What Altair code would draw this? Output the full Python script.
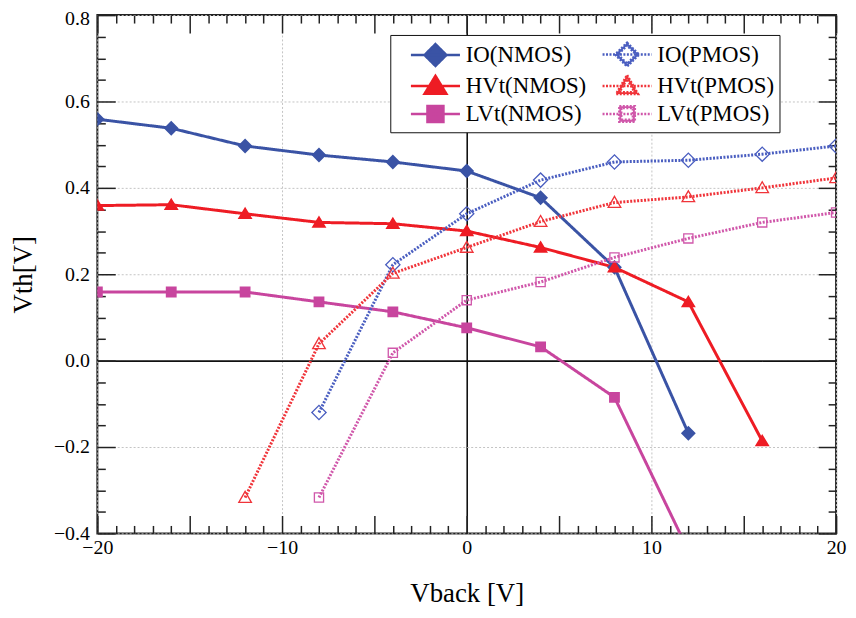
import math
import altair as alt
import pandas as pd

# ---------------- data ----------------
# legend is filled column by column: NMOS in the first column, PMOS in the second
series_order = ["IO(NMOS)", "HVt(NMOS)", "LVt(NMOS)", "IO(PMOS)", "HVt(PMOS)", "LVt(PMOS)"]
series_kind = ["NMOS", "NMOS", "NMOS", "PMOS", "PMOS", "PMOS"]
series_colors = ["#3a53a5", "#ee1c24", "#c8459e", "#4a5ec0", "#f0343a", "#d057aa"]

io_nmos_x = [-20, -16, -12, -8, -4, 0, 4, 8, 12]
io_nmos_y = [0.559, 0.538, 0.497, 0.476, 0.460, 0.439, 0.377, 0.216, -0.168]
hvt_nmos_x = [-20, -16, -12, -8, -4, 0, 4, 8, 12, 16]
hvt_nmos_y = [0.359, 0.361, 0.340, 0.320, 0.317, 0.300, 0.262, 0.216, 0.136, -0.186]
lvt_nmos_x = [-20, -16, -12, -8, -4, 0, 4, 8, 12]
lvt_nmos_y = [0.159, 0.159, 0.159, 0.136, 0.113, 0.076, 0.032, -0.085, -0.440]
io_pmos_x = [-8, -4, 0, 4, 8, 12, 16, 20]
io_pmos_y = [-0.120, 0.222, 0.340, 0.418, 0.460, 0.464, 0.478, 0.497]
hvt_pmos_x = [-12, -8, -4, 0, 4, 8, 12, 16, 20]
hvt_pmos_y = [-0.317, 0.039, 0.202, 0.262, 0.322, 0.366, 0.379, 0.400, 0.423]
lvt_pmos_x = [-8, -4, 0, 4, 8, 12, 16, 20]
lvt_pmos_y = [-0.317, 0.018, 0.140, 0.182, 0.239, 0.283, 0.320, 0.343]

x_label_values = [-20, -10, 0, 10, 20]
y_label_values = [-0.4, -0.2, 0.0, 0.2, 0.4, 0.6, 0.8]
x_tick_values = list(range(-20, 21))
y_tick_values = [round(-0.4 + 0.05 * i, 2) for i in range(25)]

series_x = [io_nmos_x, hvt_nmos_x, lvt_nmos_x, io_pmos_x, hvt_pmos_x, lvt_pmos_x]
series_y = [io_nmos_y, hvt_nmos_y, lvt_nmos_y, io_pmos_y, hvt_pmos_y, lvt_pmos_y]

rows = []
for name, kind, xs, ys in zip(series_order, series_kind, series_x, series_y):
    for xv, yv in zip(xs, ys):
        rows.append({"series": name, "kind": kind, "x": xv, "y": yv})
df = pd.DataFrame(rows)

# ---------------- marker glyphs (line + marker, for legend) ----------------
LINE = "M-1.9,0L1.9,0"


def poly(pts):
    return "M" + "L".join(f"{px:.3f},{py:.3f}" for px, py in pts) + "Z"


def ring(pts, center, inradius, t):
    cx, cy = center
    k = 1 - t / inradius
    inner = [(cx + (px - cx) * k, cy + (py - cy) * k) for px, py in pts]
    return poly(pts) + poly(list(reversed(inner)))


def tri(w, top, bot):
    A, B, C = (0, -top), (w, bot), (-w, bot)
    a = math.dist(B, C); b = math.dist(A, C); c = math.dist(A, B)
    s = a + b + c
    ix = (a * A[0] + b * B[0] + c * C[0]) / s
    iy = (a * A[1] + b * B[1] + c * C[1]) / s
    area = abs((B[0] - A[0]) * (C[1] - A[1]) - (C[0] - A[0]) * (B[1] - A[1])) / 2
    return [A, B, C], (ix, iy), 2 * area / s


dia_f = [(0, -0.85), (0.85, 0), (0, 0.85), (-0.85, 0)]
dia_o = [(0, -0.92), (0.92, 0), (0, 0.92), (-0.92, 0)]
tri_f, _, _ = tri(0.85, 0.80, 0.60)
tri_o, tri_c, tri_r = tri(0.85, 0.85, 0.62)
sq_f = [(-0.62, -0.62), (0.62, -0.62), (0.62, 0.62), (-0.62, 0.62)]
sq_o = [(-0.6, -0.6), (0.6, -0.6), (0.6, 0.6), (-0.6, 0.6)]
T = 0.15

shapes = [
    LINE + poly(dia_f),
    LINE + poly(tri_f),
    LINE + poly(sq_f),
    LINE + ring(dia_o, (0, 0), 0.92 / math.sqrt(2), T),
    LINE + ring(tri_o, tri_c, tri_r, T),
    LINE + ring(sq_o, (0, 0), 0.6, T),
]
dashes = [[1, 0], [1, 0], [1, 0], [2, 1.5], [2, 1.5], [2, 1.5]]

# ---------------- scales / legend ----------------
FONT = "Liberation Serif"
xscale = alt.Scale(domain=[-20, 20], nice=False, zero=False)
yscale = alt.Scale(domain=[-0.4, 0.8], nice=False, zero=False)

legend = alt.Legend(
    title=None, orient="none", legendX=295, legendY=20, columns=2,
    labelFont=FONT, labelFontSize=23, labelColor="black", labelLimit=400,
    symbolOffset=26, labelOffset=16, symbolSize=676, symbolStrokeWidth=2.5,
    rowPadding=-3, columnPadding=-4, padding=5,
    strokeColor="#111", fillColor="white",
)

color_scale = alt.Scale(domain=series_order, range=series_colors)

major_x = {"condition": {"test": "datum.value % 5 === 0", "value": 18}, "value": 8}
major_y = {"condition": {"test": "abs(round(datum.value * 20)) % 4 === 0", "value": 18}, "value": 8}


def tick_axis(orient, offset, values, size):
    return alt.Axis(orient=orient, offset=offset, values=values, labels=False,
                    domain=False, grid=False, ticks=True, tickSize=size,
                    tickColor="#222", tickWidth=1.5, title=None)


zero_color = {"condition": {"test": "datum.value === 0", "value": "#111"}, "value": "#c4c4c4"}
zero_dash = {"condition": {"test": "datum.value === 0", "value": [1, 0]}, "value": [2, 2]}
zero_width = {"condition": {"test": "datum.value === 0", "value": 1.6}, "value": 1}
top_label_shift = {"condition": {"test": "datum.value >= 0.79", "value": 3}, "value": 0}

axis_x_main = alt.Axis(orient="bottom", values=x_label_values, title="Vback [V]",
                       ticks=False, domain=False, grid=True, gridColor=zero_color,
                       gridDash=zero_dash, gridWidth=zero_width, labelFlush=False,
                       labelFont=FONT, labelFontSize=20, labelPadding=4,
                       titleFont=FONT, titleFontSize=27, titleFontWeight="normal",
                       titlePadding=24, labelColor="black", titleColor="black")
axis_y_main = alt.Axis(orient="left", values=y_label_values, format=".1f", title="Vth[V]",
                       ticks=False, domain=False, grid=True, gridColor=zero_color,
                       gridDash=zero_dash, gridWidth=zero_width, labelFlush=False,
                       labelOffset=top_label_shift,
                       labelFont=FONT, labelFontSize=20, labelPadding=8,
                       titleFont=FONT, titleFontSize=27, titleFontWeight="normal",
                       titlePadding=16, labelColor="black", titleColor="black")

base = alt.Chart(df)

lines = base.mark_line(strokeWidth=3, clip=True).encode(
    x=alt.X("x:Q", scale=xscale, axis=axis_x_main),
    y=alt.Y("y:Q", scale=yscale, axis=axis_y_main),
    stroke=alt.Stroke("series:N", scale=color_scale, legend=legend),
    strokeDash=alt.StrokeDash("series:N", scale=alt.Scale(domain=series_order, range=dashes), legend=legend),
    order="x:Q",
)

pts_n = base.transform_filter("datum.kind === 'NMOS'").mark_point(
    filled=True, size=310, strokeWidth=0, opacity=1, clip=True
).encode(
    x=alt.X("x:Q", scale=xscale, axis=tick_axis("top", -522, x_tick_values, major_x)),
    y=alt.Y("y:Q", scale=yscale, axis=tick_axis("right", -744, y_tick_values, major_y)),
    fill=alt.Fill("series:N", scale=color_scale, legend=legend),
    shape=alt.Shape("series:N", scale=alt.Scale(domain=series_order, range=shapes), legend=legend),
)

pts_p = base.transform_filter("datum.kind === 'PMOS'").mark_point(
    filled=True, size=310, strokeWidth=0, opacity=1, clip=True
).encode(
    x=alt.X("x:Q", scale=xscale, axis=tick_axis("bottom", -522, x_tick_values, major_x)),
    y=alt.Y("y:Q", scale=yscale, axis=tick_axis("left", -744, y_tick_values, major_y)),
    fill=alt.Fill("series:N", scale=color_scale, legend=legend),
    shape=alt.Shape("series:N", scale=alt.Scale(domain=series_order, range=shapes), legend=legend),
)

chart = alt.layer(lines, pts_n, pts_p).resolve_axis(
    x="independent", y="independent"
).properties(
    width=744, height=522,
    autosize=alt.AutoSizeParams(type="none"),
    padding={"left": 90, "top": 5, "right": 12, "bottom": 76},
    background="white",
).configure_view(stroke="#222", strokeWidth=2)

chart.save("out.html", embed_options={"renderer": "svg", "actions": False})
